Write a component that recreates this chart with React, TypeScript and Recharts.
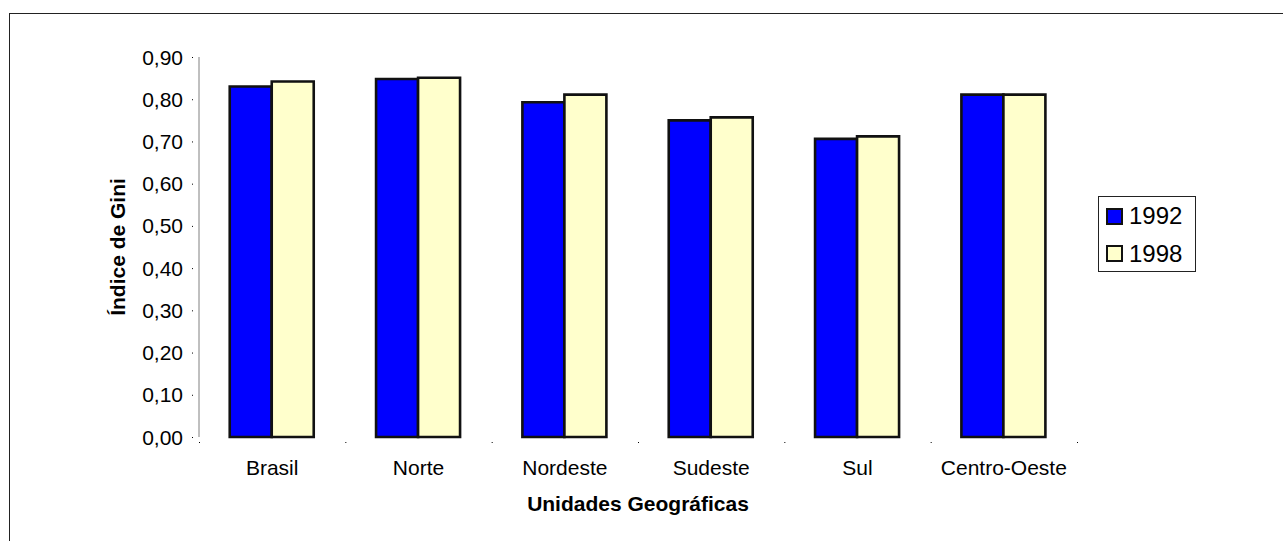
import { BarChart, Bar, XAxis, YAxis, Legend, Label } from "recharts";

const regions = ["Brasil", "Norte", "Nordeste", "Sudeste", "Sul", "Centro-Oeste"];
const gini1992 = [0.83, 0.848, 0.793, 0.75, 0.706, 0.811];
const gini1998 = [0.842, 0.851, 0.811, 0.757, 0.712, 0.811];
const yTicks = [0, 0.1, 0.2, 0.3, 0.4, 0.5, 0.6, 0.7, 0.8, 0.9];
const seriesNames = ["1992", "1998"];

const data = regions.map((r, i) => ({ name: r, v1992: gini1992[i], v1998: gini1998[i] }));

const FONT = "Arial, 'Liberation Sans', Helvetica, sans-serif";
const BLUE = "#0000ff";
const CREAM = "#ffffcc";
const BAND = 878 / regions.length;

function fmt(v: number) {
  return v.toFixed(2).replace(".", ",");
}

function YTick(props: any) {
  const { x, y, payload } = props;
  return (
    <g>
      <rect x={x - 7} y={y} width={1} height={1} fill="#000" />
      <text x={x - 16} y={y} dy="0.36em" textAnchor="end" fontSize={21} fontFamily={FONT} fill="#000">
        {fmt(payload.value)}
      </text>
    </g>
  );
}

function XTick(props: any) {
  const { x, y, payload, index } = props;
  const last = index === regions.length - 1;
  return (
    <g>
      <rect x={x - BAND / 2} y={y + 5} width={1} height={1} fill="#000" />
      {last && <rect x={x + BAND / 2} y={y + 5} width={1} height={1} fill="#000" />}
      <text x={x} y={y + 30} dy="0.36em" textAnchor="middle" fontSize={21} fontFamily={FONT} fill="#000">
        {payload.value}
      </text>
    </g>
  );
}

function LegendBox() {
  const colors = [BLUE, CREAM];
  return (
    <div
      style={{
        border: "1px solid #222",
        width: 96,
        height: 74,
        background: "#fff",
        boxSizing: "content-box",
        fontFamily: FONT,
        fontSize: 24,
        color: "#000",
      }}
    >
      {seriesNames.map((n, i) => (
        <div key={n} style={{ display: "flex", alignItems: "center", height: 38.5, marginTop: i === 0 ? 0 : -1 }}>
          <span
            style={{
              display: "inline-block",
              width: 13,
              height: 13,
              border: "2.5px solid #111",
              background: colors[i],
              marginLeft: 7,
              marginRight: 6,
            }}
          />
          <span style={{ lineHeight: "24px" }}>{n}</span>
        </div>
      ))}
    </div>
  );
}

export default function App() {
  return (
    <div style={{ position: "absolute", left: 0, top: 0, width: 1283, height: 541, overflow: "hidden", background: "#fff" }}>
      <div
        style={{
          position: "absolute",
          left: 9,
          top: 13,
          width: 1320,
          height: 600,
          border: "1px solid #222",
        }}
      />
      <div style={{ position: "absolute", left: 0, top: 0 }}>
        <BarChart
          width={1283}
          height={541}
          data={data}
          margin={{ top: 57, right: 206, bottom: 0, left: 0 }}
          barCategoryGap="21%"
          barGap={0}
        >
          <XAxis
            dataKey="name"
            height={104}
            axisLine={false}
            tickLine={false}
            tickSize={0}
            tickMargin={0}
            tick={<XTick />}
            interval={0}
          >
            <Label
              content={() => (
                <text x={638} y={503} dy="0.36em" textAnchor="middle" fontSize={21} fontWeight="bold" fontFamily={FONT} fill="#000">
                  Unidades Geográficas
                </text>
              )}
            />
          </XAxis>
          <YAxis
            width={199}
            domain={[0, 0.9]}
            ticks={yTicks}
            interval={0}
            axisLine={{ stroke: "#808080", strokeWidth: 1 }}
            tickLine={false}
            tickSize={0}
            tickMargin={0}
            tick={<YTick />}
          >
            <Label
              content={() => (
                <text
                  transform="translate(117,247) rotate(-90)"
                  textAnchor="middle"
                  dy="0.36em"
                  fontSize={21}
                  fontWeight="bold"
                  fontFamily={FONT}
                  fill="#000"
                >
                  Índice de Gini
                </text>
              )}
            />
          </YAxis>
          <Legend
            layout="horizontal"
            align="center"
            verticalAlign="middle"
            content={() => <LegendBox />}
            wrapperStyle={{ position: "absolute", left: 1098, top: 196, width: 98, height: 76 }}
          />
          <Bar dataKey="v1992" name="1992" fill={BLUE} stroke="#111" strokeWidth={2.6} isAnimationActive={false} />
          <Bar dataKey="v1998" name="1998" fill={CREAM} stroke="#111" strokeWidth={2.6} isAnimationActive={false} />
        </BarChart>
      </div>
    </div>
  );
}
